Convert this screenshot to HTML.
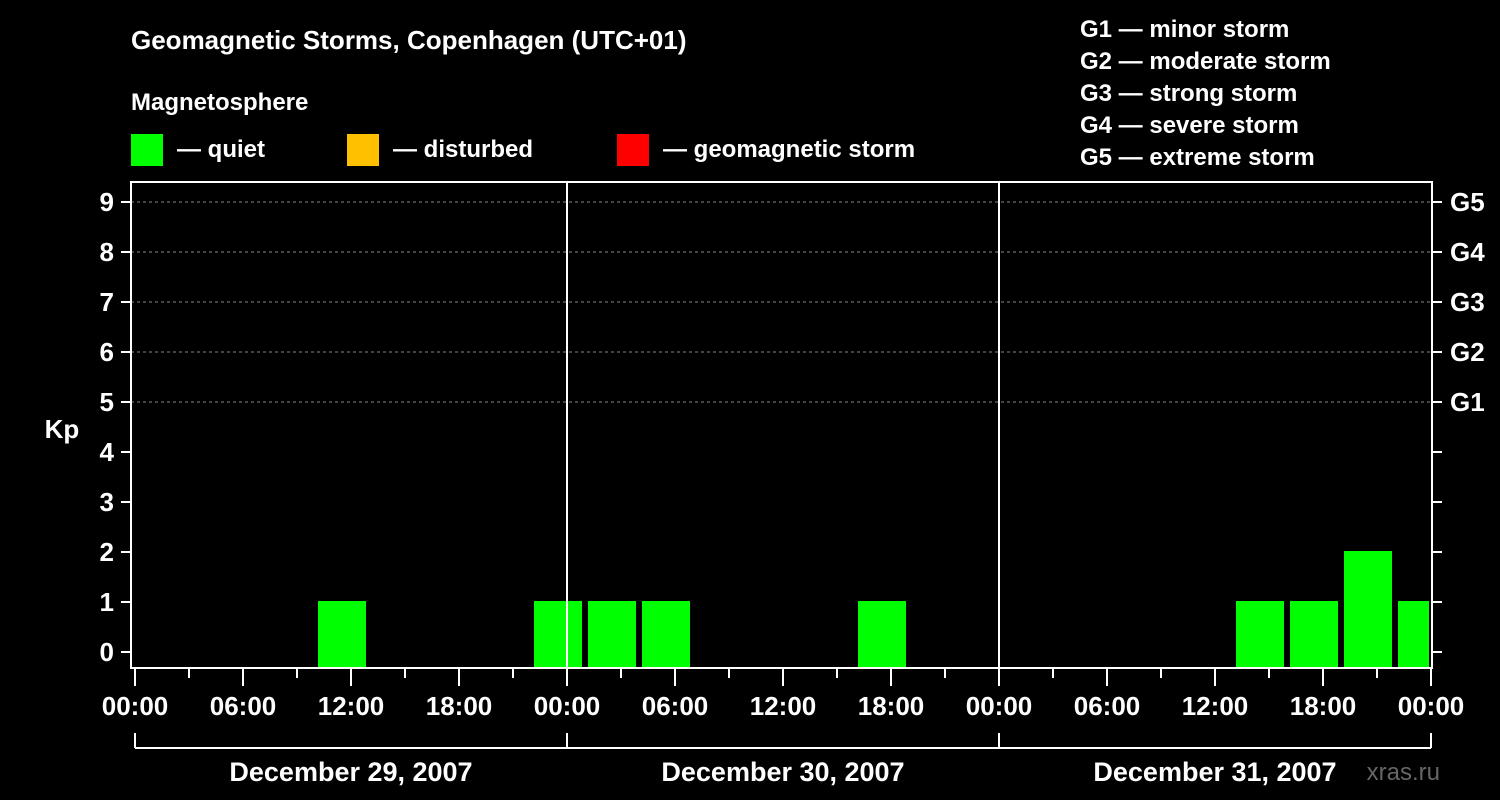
<!DOCTYPE html>
<html><head><meta charset="utf-8"><style>
html,body{margin:0;padding:0;background:#000;}
svg{display:block;font-family:"Liberation Sans",Arial,sans-serif;font-weight:bold;}
</style></head><body>
<svg id="chart" width="1500" height="800" viewBox="0 0 1500 800">
<rect width="1500" height="800" fill="#000"/>
<text x="131" y="49" fill="#fff" font-size="26">Geomagnetic Storms, Copenhagen (UTC+01)</text>
<text x="131" y="110" fill="#fff" font-size="24">Magnetosphere</text>
<g><rect x="131" y="134" width="32" height="32" fill="#00ff00"/><text x="177" y="157" fill="#fff" font-size="24">— quiet</text></g>
<g><rect x="347" y="134" width="32" height="32" fill="#ffc000"/><text x="393" y="157" fill="#fff" font-size="24">— disturbed</text></g>
<g><rect x="617" y="134" width="32" height="32" fill="#ff0000"/><text x="663" y="157" fill="#fff" font-size="24">— geomagnetic storm</text></g>
<g fill="#fff" font-size="24">
<text x="1080" y="37">G1 — minor storm</text>
<text x="1080" y="69">G2 — moderate storm</text>
<text x="1080" y="101">G3 — strong storm</text>
<text x="1080" y="133">G4 — severe storm</text>
<text x="1080" y="165">G5 — extreme storm</text>
</g>
<text x="62" y="438" fill="#fff" font-size="26" text-anchor="middle">Kp</text>
<text x="1440" y="780" fill="#666" font-size="24" text-anchor="end" font-weight="normal">xras.ru</text>
<g id="plot"></g>
</svg>
<script>
const kpValues=[0,0,0,1,0,0,0,1,1,1,0,0,0,1,0,0,0,0,0,0,1,1,2,1];
const yTicks=[0,1,2,3,4,5,6,7,8,9];
const gLabels=["G1","G2","G3","G4","G5"];
const xTickLabels=["00:00","06:00","12:00","18:00"];
const dayLabels=["December 29, 2007","December 30, 2007","December 31, 2007"];
const binOffsetHours=1;
const X0=135,DAYW=432,L=131,R=1432,T=182,B=668;
const xh=h=>X0+h*DAYW/24;
const yk=k=>652-k*50;
const NS="http://www.w3.org/2000/svg";
const g=document.getElementById('plot');
function mk(tag,a,parent){const e=document.createElementNS(NS,tag);for(const k in a)e.setAttribute(k,a[k]);(parent||g).appendChild(e);return e;}
// grid
gLabels.forEach((lab,i)=>{const k=5+i;
 const l=mk('line',{x1:L,x2:R,y1:yk(k),y2:yk(k),stroke:'#888','stroke-dasharray':'3,3','stroke-width':1});
 
 
 const t=mk('text',{x:1450,y:yk(k)+9,fill:'#fff','font-size':26});t.textContent=lab;
 
 
});
// bars
const cols=['#00ff00','#00ff00','#00ff00','#00ff00','#ffc000','#ff0000','#ff0000','#ff0000','#ff0000','#ff0000'];
kpValues.forEach((v,i)=>{ if(v<=0) return;
 const s=xh(binOffsetHours+3*i)+3; let e=xh(binOffsetHours+3*i+3)-3; e=Math.min(e,R-3);
 const r=mk('rect',{x:s,y:yk(v)-1,width:e-s,height:B-yk(v)+1,fill:cols[Math.min(9,Math.round(v))]});
 
 
});
// day lines
[1,2].forEach(d=>{const l=mk('line',{x1:xh(24*d),x2:xh(24*d),y1:T,y2:B,stroke:'#fff','stroke-width':2});
 
 });
// frame
const f=mk('rect',{x:L,y:T,width:R-L,height:B-T,fill:'none',stroke:'#fff','stroke-width':2});


// y ticks
yTicks.forEach(k=>{
 mk('line',{x1:121,x2:L,y1:yk(k),y2:yk(k),stroke:'#fff','stroke-width':2});
 mk('line',{x1:R,x2:1442,y1:yk(k),y2:yk(k),stroke:'#fff','stroke-width':2});
 const t=mk('text',{x:114,y:yk(k)+9,fill:'#fff','font-size':26,'text-anchor':'end'});t.textContent=k;
 
 
});
// x ticks
for(let h=0;h<=72;h+=3){const major=h%6===0;
 mk('line',{x1:xh(h),x2:xh(h),y1:B,y2:major?686:678,stroke:'#fff','stroke-width':2});
 if(major){const t=mk('text',{x:xh(h),y:715,fill:'#fff','font-size':26,'text-anchor':'middle'});
  t.textContent=xTickLabels[(h/6)%4];
  
  }
}
// date bracket
mk('line',{x1:xh(0),x2:xh(72),y1:748,y2:748,stroke:'#fff','stroke-width':2});
for(let d=0;d<=3;d++) mk('line',{x1:xh(24*d),x2:xh(24*d),y1:733,y2:748,stroke:'#fff','stroke-width':2});
dayLabels.forEach((lab,d)=>{const t=mk('text',{x:xh(24*d+12),y:781,fill:'#fff','font-size':27,'text-anchor':'middle'});t.textContent=lab;
 
 });
</script>
</body></html>
